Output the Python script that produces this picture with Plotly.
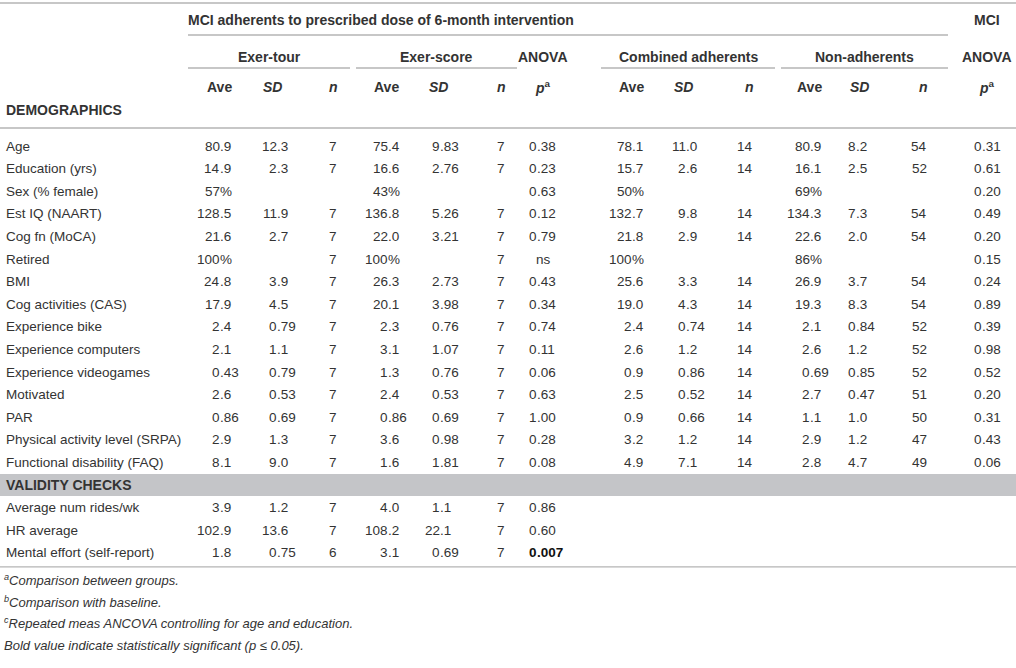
import re
import plotly.graph_objects as go

W, H = 1016, 668
FONT = "Liberation Sans, Arial, Helvetica, sans-serif"
TXT = "#333333"
LINE = "#b4b4b4"
BAND = "#c4c5c8"

demo_labels = [
    "Age", "Education (yrs)", "Sex (% female)", "Est IQ (NAART)", "Cog fn (MoCA)",
    "Retired", "BMI", "Cog activities (CAS)", "Experience bike", "Experience computers",
    "Experience videogames", "Motivated", "PAR", "Physical activity level (SRPA)",
    "Functional disability (FAQ)",
]
validity_labels = ["Average num rides/wk", "HR average", "Mental effort (self-report)"]

# 15 demographic rows followed by 3 validity rows
exer_tour_ave = ["80.9", "14.9", "57%", "128.5", "21.6", "100%", "24.8", "17.9", "2.4", "2.1",
                 "0.43", "2.6", "0.86", "2.9", "8.1", "3.9", "102.9", "1.8"]
exer_tour_sd = ["12.3", "2.3", "", "11.9", "2.7", "", "3.9", "4.5", "0.79", "1.1",
                "0.79", "0.53", "0.69", "1.3", "9.0", "1.2", "13.6", "0.75"]
exer_tour_n = ["7", "7", "", "7", "7", "7", "7", "7", "7", "7",
               "7", "7", "7", "7", "7", "7", "7", "6"]
exer_score_ave = ["75.4", "16.6", "43%", "136.8", "22.0", "100%", "26.3", "20.1", "2.3", "3.1",
                  "1.3", "2.4", "0.86", "3.6", "1.6", "4.0", "108.2", "3.1"]
exer_score_sd = ["9.83", "2.76", "", "5.26", "3.21", "", "2.73", "3.98", "0.76", "1.07",
                 "0.76", "0.53", "0.69", "0.98", "1.81", "1.1", "22.1", "0.69"]
exer_score_n = ["7", "7", "", "7", "7", "7", "7", "7", "7", "7",
                "7", "7", "7", "7", "7", "7", "7", "7"]
anova_p = ["0.38", "0.23", "0.63", "0.12", "0.79", "ns", "0.43", "0.34", "0.74", "0.11",
           "0.06", "0.63", "1.00", "0.28", "0.08", "0.86", "0.60", "0.007"]
combined_ave = ["78.1", "15.7", "50%", "132.7", "21.8", "100%", "25.6", "19.0", "2.4", "2.6",
                "0.9", "2.5", "0.9", "3.2", "4.9", "", "", ""]
combined_sd = ["11.0", "2.6", "", "9.8", "2.9", "", "3.3", "4.3", "0.74", "1.2",
               "0.86", "0.52", "0.66", "1.2", "7.1", "", "", ""]
combined_n = ["14", "14", "", "14", "14", "", "14", "14", "14", "14",
              "14", "14", "14", "14", "14", "", "", ""]
non_ave = ["80.9", "16.1", "69%", "134.3", "22.6", "86%", "26.9", "19.3", "2.1", "2.6",
           "0.69", "2.7", "1.1", "2.9", "2.8", "", "", ""]
non_sd = ["8.2", "2.5", "", "7.3", "2.0", "", "3.7", "8.3", "0.84", "1.2",
          "0.85", "0.47", "1.0", "1.2", "4.7", "", "", ""]
non_n = ["54", "52", "", "54", "54", "", "54", "54", "52", "52",
         "52", "51", "50", "47", "49", "", "", ""]
mci_p = ["0.31", "0.61", "0.20", "0.49", "0.20", "0.15", "0.24", "0.89", "0.39", "0.98",
         "0.52", "0.20", "0.31", "0.43", "0.06", "", "", ""]
bold_cells = {("anova_p", 17)}

footnotes = [
    "<sup>a</sup>Comparison between groups.",
    "<sup>b</sup>Comparison with baseline.",
    "<sup>c</sup>Repeated meas ANCOVA controlling for age and education.",
    "Bold value indicate statistically significant (p ≤ 0.05).",
]

# column name, values, decimal x, header text, header centre x
columns = [
    ("exer_tour_ave", exer_tour_ave, 220, "<b>Ave</b>", 219),
    ("exer_tour_sd", exer_tour_sd, 277, "<b><i>SD</i></b>", 272),
    ("exer_tour_n", exer_tour_n, 337, "<b><i>n</i></b>", 333),
    ("exer_score_ave", exer_score_ave, 388, "<b>Ave</b>", 386),
    ("exer_score_sd", exer_score_sd, 440, "<b><i>SD</i></b>", 438),
    ("exer_score_n", exer_score_n, 505, "<b><i>n</i></b>", 501),
    ("anova_p", anova_p, 537, "<b><i>p</i><sup>a</sup></b>", 543),
    ("combined_ave", combined_ave, 632, "<b>Ave</b>", 631),
    ("combined_sd", combined_sd, 686, "<b><i>SD</i></b>", 683),
    ("combined_n", combined_n, 753, "<b><i>n</i></b>", 749),
    ("non_ave", non_ave, 810, "<b>Ave</b>", 809),
    ("non_sd", non_sd, 856, "<b><i>SD</i></b>", 859),
    ("non_n", non_n, 927, "<b><i>n</i></b>", 923),
    ("mci_p", mci_p, 982, "<b><i>p</i><sup>a</sup></b>", 987),
]

groups = [
    ("Exer-tour", 188, 350),
    ("Exer-score", 356, 517),
    ("Combined adherents", 601, 775),
    ("Non-adherents", 781, 948),
]

ROW0, PITCH = 146, 22.6
FS = 14      # headings
LFS = 13.5   # row labels
NFS = 13.5   # numbers

fig = go.Figure()
fig.add_trace(go.Scatter(x=[0, W], y=[0, H], mode="markers", marker=dict(opacity=0),
                         hoverinfo="skip", showlegend=False))

ann = []


def text(x, y, s, anchor="left", size=FS, color=TXT):
    ann.append(dict(x=x, y=y, xref="x", yref="y", text=s, showarrow=False,
                    xanchor=anchor, yanchor="middle", borderpad=0, borderwidth=0,
                    font=dict(family=FONT, size=size, color=color)))


def hline(x0, x1, y, w=1.3):
    fig.add_shape(type="line", x0=x0, x1=x1, y0=y, y1=y, xref="x", yref="y",
                  line=dict(color=LINE, width=w))


# rules and band
hline(0, W, 3)
hline(188, 948, 35)
for g, x0, x1 in groups:
    hline(x0, x1, 68)
hline(0, W, 128)
band_y = ROW0 + 15 * PITCH
fig.add_shape(type="rect", x0=0, x1=W, y0=band_y - 11, y1=band_y + 11, xref="x", yref="y",
              fillcolor=BAND, line=dict(width=0), layer="below")
hline(0, W, ROW0 + 18 * PITCH + 14)

# header texts
text(188, 20, "<b>MCI adherents to prescribed dose of 6-month intervention</b>")
text(987, 20, "<b>MCI</b>", "center")
text(987, 57, "<b>ANOVA</b>", "center")
text(543, 57, "<b>ANOVA</b>", "center")
for g, x0, x1 in groups:
    text((x0 + x1) / 2, 57, "<b>%s</b>" % g, "center")
for name, vals, dx, head, hx in columns:
    text(hx, 87, head, "center")
text(6, 110, "<b>DEMOGRAPHICS</b>")

# row labels
row_labels = demo_labels + [""] + validity_labels
for i, lab in enumerate(row_labels):
    if lab:
        text(6, ROW0 + i * PITCH, lab, size=LFS)
text(6, band_y, "<b>VALIDITY CHECKS</b>")

# cells, decimal aligned
data_rows = list(range(15)) + [16, 17, 18]
for name, vals, dx, head, hx in columns:
    for k, (i, v) in enumerate(zip(data_rows, vals)):
        if not v:
            continue
        y = ROW0 + i * PITCH
        bold = (name, k) in bold_cells
        col = "#111111" if bold else TXT
        m = re.match(r"^(\d*)(.*)$", v)
        ip, rest = m.group(1), m.group(2)
        if not ip:
            text(hx, y, v, "center", size=NFS)
            continue
        if bold:
            ip = "<b>%s</b>" % ip
            rest = "<b>%s</b>" % rest if rest else rest
        text(dx, y, ip, "right", size=NFS, color=col)
        if rest:
            text(dx, y, rest, "left", size=NFS, color=col)

# footnotes
for j, f in enumerate(footnotes):
    text(4, 580 + j * 21.7, "<i>%s</i>" % f, size=13)

fig.update_layout(
    width=W, height=H, margin=dict(l=0, r=0, t=0, b=0),
    plot_bgcolor="white", paper_bgcolor="white",
    xaxis=dict(range=[0, W], visible=False, fixedrange=True),
    yaxis=dict(range=[H, 0], visible=False, fixedrange=True),
    annotations=ann, showlegend=False,
)
fig.write_html("out.html", config={"displayModeBar": False},
               post_script="document.body.style.margin='0';")
